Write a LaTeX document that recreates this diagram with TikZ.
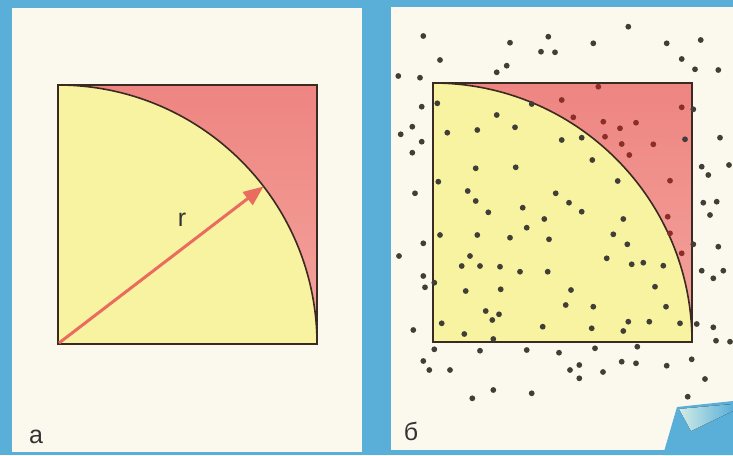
\documentclass[tikz,border=0pt]{standalone}
\usepackage{fontspec}
\setmainfont{Liberation Sans}
\usetikzlibrary{arrows.meta}

\definecolor{bgblue}{HTML}{5AAFD8}
\definecolor{paper}{HTML}{FBF9EE}
\definecolor{quartyellow}{HTML}{F8F3A0}
\definecolor{cornerred}{HTML}{EE8582}
\definecolor{cornerpink}{HTML}{F4A49C}
\definecolor{arrowred}{HTML}{EA6C5E}
\definecolor{edgebrown}{HTML}{3B2A22}
\definecolor{dotgrey}{HTML}{403E36}
\definecolor{dotred}{HTML}{8A2E2A}
\definecolor{flappale}{HTML}{D2ECE6}

\begin{document}
\begin{tikzpicture}[x=1pt, y=-1pt,
  panel/.style={fill=paper},
  frame/.style={draw=edgebrown, line width=1.6pt},
  letter/.style={font=\fontsize{25}{25}\selectfont, text=black!80, inner sep=0pt},
  dot/.style={fill=dotgrey},
  reddot/.style={fill=dotred},
]
\useasboundingbox (0,0) rectangle (733,455);
\fill[bgblue] (0,0) rectangle (733,455);
\fill[panel] (12,8) rectangle (362,452);
\fill[panel] (391,7) rectangle (733,450);

\foreach \sx/\sy in {58/344, 433/342} {
  \fill[top color=cornerred, bottom color=cornerpink] (\sx,\sy-259) rectangle (\sx+259,\sy);
  \fill[quartyellow] (\sx,\sy) -- (\sx,\sy-259) arc[start angle=-90, end angle=0, radius=259] -- cycle;
  \draw[frame] (\sx,\sy-259) arc[start angle=-90, end angle=0, radius=259];
  \draw[frame] (\sx,\sy-259) rectangle (\sx+259,\sy);
}

\coordinate (centA) at (59,343);
\coordinate (rtip) at (263.5,186.5);
\draw[arrowred, line width=3pt, -{Triangle[length=20pt,width=16pt]}] (centA) -- (rtip);
\node[letter] (rlab) at (182,220) {r};

\foreach \px/\py in {
  628.3/26.7, 423.3/36, 548.3/36.7, 510/42.7, 593.3/43.3, 666.7/43.3, 700.7/40,
  541/51.7, 555/52.3, 440/60, 681.7/59, 506.7/65.7, 496.7/72.3, 695/69.3,
  718.3/70, 398.3/76, 420/77.7,
  421.7/106.7, 412.3/126.7, 400.7/134.3, 421.7/141.7, 412.3/152.7, 415/193.3,
  423.3/243.3, 399/256, 423.3/276, 425/287.3, 413.3/330,
  437.3/103.3, 531.7/104, 496.7/115, 515/127.3, 477.3/130, 447.3/132.7,
  561.7/140, 581.7/137.7, 592.3/160, 515.7/167.3, 475.7/168.3, 438.3/181.7,
  617.7/181, 467.7/191, 475.7/201, 555.7/193.3, 569/202.7, 581.7/211.7,
  488.3/212.3, 522.7/207.7, 544.3/219, 526.7/227.7, 623.3/219, 440/235,
  477.3/235, 510/237.7, 549/239.3, 613.3/234.3, 627.3/244.3, 470/256,
  461.7/266, 480/266, 500/266.7, 520/271.7, 547.7/271.7, 606.7/258.3,
  631.7/264.3, 643.3/262.7, 663.3/265.7, 434.3/282.7, 465.7/291, 500.7/289.3,
  571/290, 655/286.7, 485.7/311, 499/314.3, 492.3/320, 565.7/305, 593.3/306.7,
  666/306.7, 441.7/323.3, 542.7/326.7, 591.7/328.3, 628.3/321.7, 649.3/321.7,
  680/323.3, 623.3/331, 464.3/334, 493.3/339,
  693.3/109.3, 685/139.3, 693.3/244.3, 696.7/324,
  720/137.7, 701.7/166.7, 708.3/175, 729/165, 703.3/202.7, 716.7/201.7,
  710/215, 718.3/246.7, 701.7/270.7, 713.3/278.3, 723.3/270.7, 713.3/327.3,
  716/340.7, 730/341.7,
  434.3/349.3, 480/350.7, 526.7/350, 559/352.7, 595/348.3, 637.3/346.7,
  423.3/361, 429.3/370, 450/370, 570/370, 579.3/365, 579.3/378.3, 603/372,
  621.7/361.7, 636/363.3, 666.7/365.7, 691.7/359.3, 705/379, 493.3/390,
  531.7/393.3, 472.3/398.3, 687.7/396.7}
  \fill[dot] (\px,\py) circle[radius=2.9];

\foreach \px/\py in {
  598.3/86.7, 561.7/100, 681.7/107.3, 573.3/117.3, 603.3/121.7, 636/122.7,
  620/128.3, 605/136.7, 621.7/144, 653.3/144.3, 629.3/155, 670/180.7,
  667.7/216.7, 670/233.3, 681.7/253.3}
  \fill[reddot] (\px,\py) circle[radius=2.9];

\fill[bgblue] (663,455) -- (677,407) -- (733,401) -- (733,455) -- cycle;
\fill[left color=flappale, right color=bgblue] (679,409) -- (691,431) -- (733,411) -- (733,404) -- cycle;

\node[letter] (capA) at (36,437) {а};
\node[letter] (capB) at (411,431) {б};
\end{tikzpicture}
\end{document}
